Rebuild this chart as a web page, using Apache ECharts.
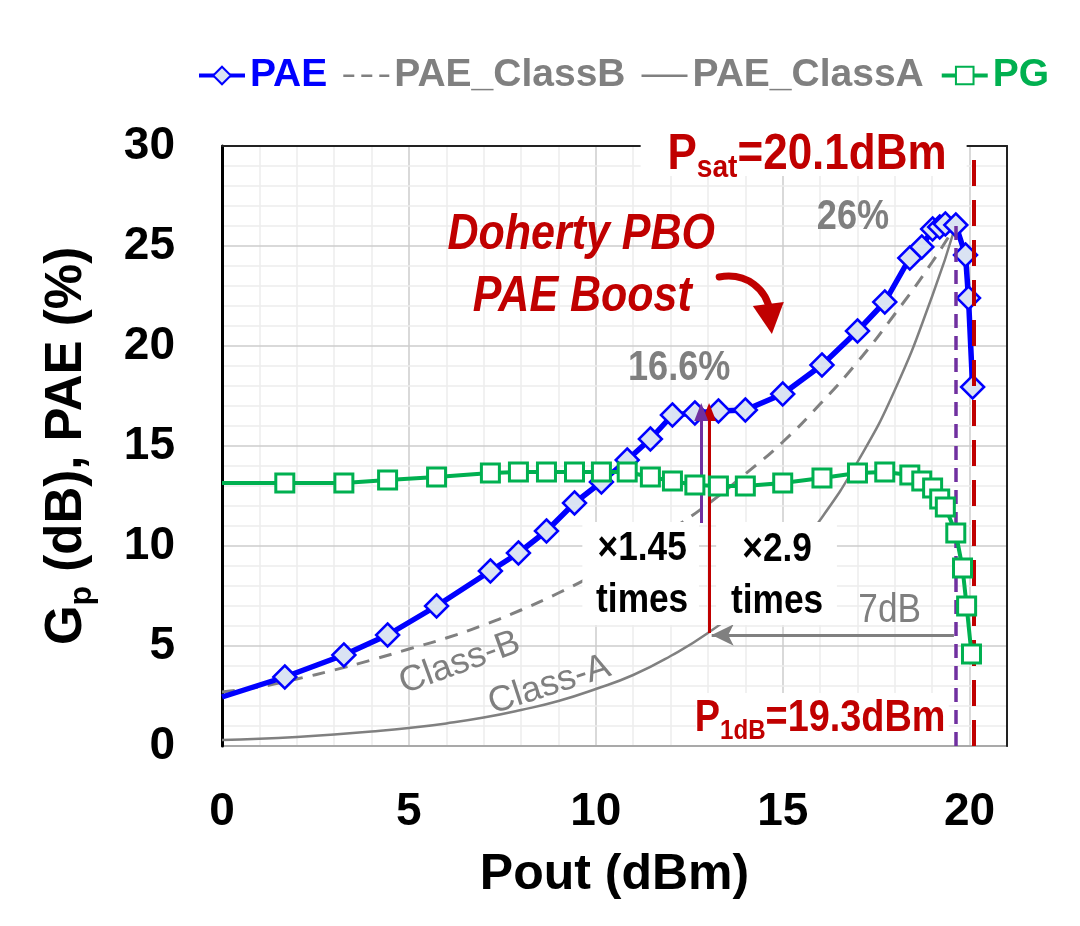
<!DOCTYPE html>
<html>
<head>
<meta charset="utf-8">
<script src="https://cdn.jsdelivr.net/npm/echarts@6/dist/echarts.min.js"></script>
<style>html,body{margin:0;background:#fff}#c{width:1080px;height:926px}</style>
</head>
<body>
<div id="c"></div>
<script>
const FONT = '"Liberation Sans",Arial,sans-serif';

// PAE measured (blue diamonds)
const paeX = [0, 1.68, 3.26, 4.43, 5.74, 7.18, 7.93, 8.68, 9.43, 10.15, 10.84, 11.46, 12.05, 12.65, 13.28, 14.0, 15.0, 16.05, 17.0, 17.73, 18.4, 18.72, 19.01, 19.2, 19.35, 19.63, 19.89, 19.97, 20.08];
const paeY = [2.45, 3.45, 4.55, 5.55, 7.0, 8.75, 9.65, 10.75, 12.15, 13.2, 14.3, 15.35, 16.55, 16.65, 16.75, 16.8, 17.6, 19.05, 20.75, 22.2, 24.4, 24.95, 25.85, 25.95, 26.1, 26.05, 24.55, 22.4, 17.95];

// power gain (green squares)
const pgX = [0, 1.68, 3.26, 4.43, 5.74, 7.18, 7.93, 8.68, 9.43, 10.15, 10.84, 11.46, 12.05, 12.65, 13.28, 14.0, 15.0, 16.05, 17.0, 17.73, 18.4, 18.72, 19.01, 19.2, 19.35, 19.63, 19.81, 19.92, 20.05];
const pgY = [13.15, 13.15, 13.15, 13.3, 13.45, 13.65, 13.7, 13.7, 13.7, 13.7, 13.7, 13.45, 13.25, 13.05, 13.0, 13.0, 13.15, 13.4, 13.65, 13.7, 13.55, 13.25, 12.9, 12.35, 11.95, 10.65, 8.9, 7.0, 4.6];

// ideal class-B / class-A references
const classX = [0, 1, 2, 3, 4, 5, 6, 7, 8, 9, 10, 11, 12, 13, 14, 15, 16, 17, 18, 19, 19.63];
const classB = [2.7, 2.95, 3.35, 3.8, 4.3, 4.85, 5.4, 6.05, 6.8, 7.65, 8.6, 9.65, 10.8, 12.1, 13.6, 15.2, 17.1, 19.2, 21.6, 24.2, 26.05];
const classA = [0.3, 0.36, 0.45, 0.57, 0.72, 0.9, 1.13, 1.42, 1.8, 2.25, 2.85, 3.55, 4.5, 5.65, 7.1, 8.95, 11.3, 14.2, 17.8, 22.5, 26.05];

const P1DB_X = 19.63, PSAT_X = 20.1;

const pair = (xs, ys) => xs.map((x, i) => i === 0 ? {value: [x, ys[i]], symbol: 'none'} : [x, ys[i]]);
const majorMinor = ['#cdcdcd', '#ececec', '#ececec', '#ececec', '#ececec'];
const every5 = v => (Math.abs(v % 5) < 1e-6 && v !== 21) ? String(v) : '';

// plain line icons for the legend (the empty sub-paths only fix the icon box height)
const solidIcon = 'path://M0,0L1,0Z M0,20L1,20Z M0,9H46V11.5H0Z';
const dashIcon = 'path://M0,0L1,0Z M0,20L1,20Z M0,9H11V11.5H0Z M18,9H29V11.5H18Z M36,9H46V11.5H36Z';

const chart = echarts.init(document.getElementById('c'));

const option = {
  animation: false,
  backgroundColor: '#fff',
  legend: {
    top: 51, left: 192,
    itemWidth: 46, itemHeight: 22, itemGap: 16,
    textStyle: {fontFamily: FONT, fontSize: 39, fontWeight: 'bold'},
    data: [
      {name: 'PAE', lineStyle: {width: 4}, textStyle: {color: '#0000ff'}},
      {name: 'PAE_ClassB', icon: dashIcon, itemStyle: {color: '#808080'}, textStyle: {color: '#808080'}},
      {name: 'PAE_ClassA', icon: solidIcon, itemStyle: {color: '#808080'}, textStyle: {color: '#808080'}},
      {name: 'PG', lineStyle: {width: 4}, textStyle: {color: '#00b050'}}
    ]
  },
  grid: {left: 222, right: 73, top: 146, bottom: 180},
  xAxis: [{
    type: 'value', min: 0, max: 21, interval: 1,
    name: 'Pout (dBm)', nameLocation: 'middle', nameGap: 104,
    nameTextStyle: {fontFamily: FONT, fontSize: 50, fontWeight: 'bold', color: '#000'},
    axisLine: {show: true, lineStyle: {color: '#404040', width: 2}},
    axisTick: {show: false},
    axisLabel: {margin: 43, fontFamily: FONT, fontSize: 46, fontWeight: 'bold', color: '#000', formatter: every5},
    splitLine: {show: true, lineStyle: {color: majorMinor, width: 1.5}}
  }, {
    type: 'value', min: 0, max: 21, position: 'top', z: 3,
    axisLine: {show: true, onZero: false, lineStyle: {color: '#222', width: 2}},
    axisTick: {show: false}, axisLabel: {show: false}, splitLine: {show: false}
  }],
  yAxis: [{
    type: 'value', min: 0, max: 30, interval: 1, z: 3,
    name: '{a|G}{s|p}{a| (dB), PAE (%)}', nameLocation: 'middle', nameGap: 130,
    nameTextStyle: {
      rich: {
        a: {fontFamily: FONT, fontSize: 51, fontWeight: 'bold', color: '#000', lineHeight: 54, verticalAlign: 'bottom'},
        s: {fontFamily: FONT, fontSize: 32, fontWeight: 'bold', color: '#000', lineHeight: 54, verticalAlign: 'bottom', padding: [0, 0, -6, 0]}
      }
    },
    axisLine: {show: true, onZero: false, lineStyle: {color: '#000', width: 3}},
    axisTick: {show: false},
    axisLabel: {margin: 47, fontFamily: FONT, fontSize: 46, fontWeight: 'bold', color: '#000', formatter: every5},
    splitLine: {show: true, lineStyle: {color: majorMinor, width: 1.5}}
  }, {
    type: 'value', min: 0, max: 30, position: 'right', z: 3,
    axisLine: {show: true, onZero: false, lineStyle: {color: '#222', width: 2}},
    axisTick: {show: false}, axisLabel: {show: false}, splitLine: {show: false}
  }],
  series: [
    {
      name: 'PAE', type: 'line', z: 4,
      data: pair(paeX, paeY),
      symbol: 'diamond', symbolSize: 23,
      itemStyle: {color: '#dae3f3', borderColor: '#0000ff', borderWidth: 2.5},
      lineStyle: {color: '#0000ff', width: 5.5}
    },
    {
      name: 'PAE_ClassB', type: 'line', z: 3, smooth: true, symbol: 'none',
      data: classX.map((x, i) => [x, classB[i]]),
      itemStyle: {color: '#808080'},
      lineStyle: {color: '#808080', width: 3, type: [13, 10]}
    },
    {
      name: 'PAE_ClassA', type: 'line', z: 3, smooth: true, symbol: 'none',
      data: classX.map((x, i) => [x, classA[i]]),
      itemStyle: {color: '#808080'},
      lineStyle: {color: '#808080', width: 2.5}
    },
    {
      name: 'PG', type: 'line', z: 5,
      data: pair(pgX, pgY),
      symbol: 'rect', symbolSize: 18,
      itemStyle: {color: '#ffffff', borderColor: '#00b050', borderWidth: 3},
      lineStyle: {color: '#00b050', width: 4}
    },
    {
      name: 'marks', type: 'line', z: 10, data: [],
      markLine: {
        silent: true, symbol: 'none', label: {show: false},
        data: [
          [{coord: [PSAT_X, 29.3], lineStyle: {color: '#c00000', width: 4, type: [26, 14]}}, {coord: [PSAT_X, 0]}],
          [{coord: [P1DB_X, 26], lineStyle: {color: '#7030a0', width: 3.5, type: [14, 8]}}, {coord: [P1DB_X, 0]}],
          [{coord: [13.03, 5.65], lineStyle: {color: '#c00000', width: 3, type: 'solid'}}, {coord: [13.03, 16.7], symbol: 'triangle', symbolSize: [14, 18]}],
          [{coord: [12.82, 11.15], lineStyle: {color: '#7030a0', width: 3, type: 'solid'}}, {coord: [12.82, 16.7], symbol: 'triangle', symbolSize: [14, 18]}],
          [{coord: [P1DB_X - 0.05, 5.55], lineStyle: {color: '#808080', width: 3, type: 'solid'}}, {coord: [13.1, 5.55], symbol: 'arrow', symbolSize: [16, 22]}]
        ]
      }
    }
  ]
};
chart.setOption(option);

const px = (x, y) => chart.convertToPixel({xAxisIndex: 0, yAxisIndex: 0}, [x, y]);
const g = [];
function box(x1, y1, x2, y2) {
  const a = px(x1, y1), b = px(x2, y2);
  g.push({type: 'rect', z: 50, shape: {x: a[0], y: a[1], width: b[0] - a[0], height: b[1] - a[1]}, style: {fill: '#fff'}});
}
// narrow-looking text: the source uses a condensed face, so squeeze horizontally
function text(x, y, str, style, rot, sx) {
  const p = px(x, y);
  g.push({type: 'text', z: 51, x: p[0], y: p[1], rotation: (rot || 0) * Math.PI / 180, scaleX: sx || 0.86,
    style: Object.assign({text: str, align: 'center', verticalAlign: 'middle', fontFamily: FONT}, style)});
}

box(9.64, 11.2, 12.76, 6.05);
box(13.22, 11.2, 16.45, 6.05);
box(11.2, 30.8, 19.92, 28.5);
box(12.68, 2.65, 19.44, 0.05);

const red = '#c00000', gray = '#7f7f7f';
text(9.61, 25.55, 'Doherty PBO', {fontSize: 50, fontWeight: 'bold', fontStyle: 'italic', fill: red});
text(9.64, 22.45, 'PAE Boost', {fontSize: 50, fontWeight: 'bold', fontStyle: 'italic', fill: red});
text(12.23, 18.9, '16.6%', {fontSize: 42, fontWeight: 'bold', fill: gray});
text(16.88, 26.45, '26%', {fontSize: 42, fontWeight: 'bold', fill: gray});
text(11.24, 8.55, '×1.45\ntimes', {fontSize: 41, fontWeight: 'bold', fill: '#000', lineHeight: 52});
text(14.85, 8.5, '×2.9\ntimes', {fontSize: 41, fontWeight: 'bold', fill: '#000', lineHeight: 52});
text(17.86, 6.75, '7dB', {fontSize: 40, fill: gray}, 0, 0.88);
text(6.36, 4.15, 'Class-B', {fontSize: 36, fill: gray}, 20, 1);
text(8.76, 3.05, 'Class-A', {fontSize: 36, fill: gray}, 18, 1);
text(15.65, 29.6, '{b|P}{s|sat}{b|=20.1dBm}', {
  rich: {
    b: {fontFamily: FONT, fontSize: 50, fontWeight: 'bold', fill: red, lineHeight: 52, verticalAlign: 'bottom'},
    s: {fontFamily: FONT, fontSize: 32, fontWeight: 'bold', fill: red, lineHeight: 52, verticalAlign: 'bottom', padding: [0, 0, -4, 0]}
  }
}, 0, 0.88);
text(16.0, 1.4, '{b|P}{s|1dB}{b|=19.3dBm}', {
  rich: {
    b: {fontFamily: FONT, fontSize: 44, fontWeight: 'bold', fill: red, lineHeight: 46, verticalAlign: 'bottom'},
    s: {fontFamily: FONT, fontSize: 28, fontWeight: 'bold', fill: red, lineHeight: 46, verticalAlign: 'bottom', padding: [0, 0, -4, 0]}
  }
});

// curved "boost" arrow
const c0 = px(13.3, 23.45), c1 = px(14.05, 23.7), c2 = px(14.58, 22.8), c3 = px(14.66, 21.7);
g.push({type: 'bezierCurve', z: 51, shape: {x1: c0[0], y1: c0[1], cpx1: c1[0], cpy1: c1[1], cpx2: c2[0], cpy2: c2[1], x2: c3[0], y2: c3[1]},
  style: {stroke: red, lineWidth: 7, fill: null, lineCap: 'round'}});
g.push({type: 'polygon', z: 51, shape: {points: [px(14.2, 22.0), px(15.03, 22.2), px(14.71, 20.6)]}, style: {fill: red}});

chart.setOption({graphic: g});
</script>
</body>
</html>
